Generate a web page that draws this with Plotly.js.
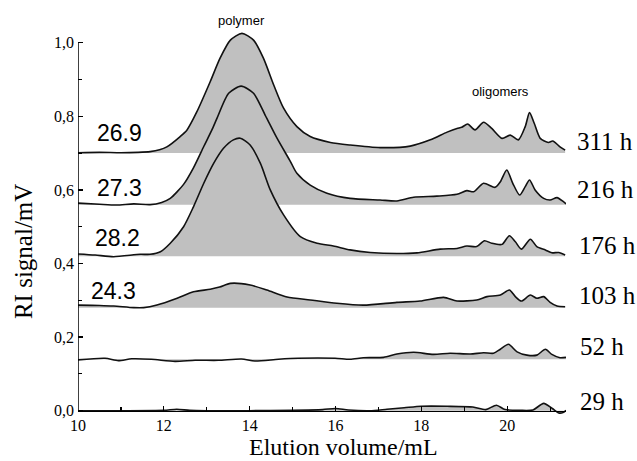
<!DOCTYPE html>
<html>
<head>
<meta charset="utf-8">
<script src="https://cdn.plot.ly/plotly-3.0.1.min.js"></script>
<style>html,body{margin:0;padding:0;background:#fff;}#chart{width:637px;height:461px;}</style>
</head>
<body>
<div id="chart"></div>
<script>
// ---- data (Elution volume in mL, RI signal in mV incl. vertical offset) ----
const x311 = [10, 10.5, 11, 11.4, 11.68, 11.9, 12.07, 12.38, 12.54, 12.77, 13.08, 13.31, 13.55, 13.82, 14.09, 14.32, 14.56, 14.79, 15.10, 15.41, 15.88, 16.34, 17.04, 17.74, 18.21, 18.60, 18.83, 18.94, 19.08, 19.25, 19.45, 19.64, 19.88, 20.07, 20.26, 20.42, 20.52, 20.63, 20.77, 20.96, 21.06, 21.23, 21.35];
const y311 = [0.701, 0.702, 0.701, 0.702, 0.704, 0.709, 0.717, 0.745, 0.763, 0.8125, 0.894, 0.958, 1.007, 1.0255, 1.007, 0.958, 0.885, 0.822, 0.772, 0.745, 0.729, 0.722, 0.715, 0.719, 0.736, 0.757, 0.767, 0.770, 0.779, 0.763, 0.784, 0.767, 0.740, 0.749, 0.736, 0.772, 0.810, 0.781, 0.740, 0.729, 0.733, 0.717, 0.708];
const base311 = 0.70;

const x216 = [10, 10.5, 10.9, 11.3, 11.68, 11.95, 12.15, 12.46, 12.69, 12.93, 13.12, 13.24, 13.51, 13.80, 14.09, 14.36, 14.64, 14.95, 15.10, 15.41, 15.80, 16.34, 17.04, 17.43, 17.82, 18.36, 18.83, 19.06, 19.22, 19.45, 19.72, 19.84, 19.99, 20.13, 20.29, 20.42, 20.52, 20.65, 20.85, 21.0, 21.16, 21.31, 21.37];
const y216 = [0.564, 0.561, 0.559, 0.562, 0.560, 0.566, 0.577, 0.615, 0.660, 0.718, 0.763, 0.795, 0.8625, 0.882, 0.8625, 0.8035, 0.740, 0.677, 0.645, 0.613, 0.591, 0.577, 0.5725, 0.570, 0.580, 0.583, 0.588, 0.598, 0.595, 0.618, 0.607, 0.622, 0.654, 0.618, 0.586, 0.609, 0.627, 0.600, 0.577, 0.5725, 0.579, 0.568, 0.562];
const base216 = 0.56;

const x176 = [10, 10.4, 10.83, 11.45, 11.68, 11.92, 12.15, 12.46, 12.69, 12.93, 13.16, 13.39, 13.62, 13.78, 14.01, 14.25, 14.48, 14.79, 15.18, 15.57, 15.95, 16.34, 16.81, 17.43, 17.90, 18.44, 18.83, 19.06, 19.29, 19.47, 19.64, 19.88, 20.05, 20.19, 20.33, 20.54, 20.69, 20.89, 21.04, 21.20, 21.35];
const y176 = [0.426, 0.423, 0.4185, 0.425, 0.425, 0.432, 0.455, 0.500, 0.554, 0.618, 0.672, 0.713, 0.736, 0.7405, 0.722, 0.672, 0.600, 0.532, 0.473, 0.455, 0.4475, 0.437, 0.430, 0.427, 0.429, 0.439, 0.441, 0.4475, 0.446, 0.462, 0.455, 0.452, 0.4755, 0.459, 0.439, 0.466, 0.446, 0.437, 0.429, 0.430, 0.423];
const base176 = 0.42;

const x103 = [10, 10.5, 10.83, 11.30, 11.53, 11.84, 12.31, 12.69, 13.08, 13.3, 13.55, 14.01, 14.40, 14.87, 15.41, 16.03, 16.65, 17.43, 17.97, 18.52, 18.83, 19.29, 19.53, 19.84, 20.05, 20.19, 20.33, 20.54, 20.69, 20.85, 21.0, 21.16, 21.35];
const y103 = [0.287, 0.286, 0.2845, 0.280, 0.280, 0.287, 0.3055, 0.323, 0.330, 0.336, 0.346, 0.3416, 0.328, 0.309, 0.301, 0.292, 0.287, 0.2945, 0.298, 0.308, 0.298, 0.301, 0.310, 0.3144, 0.328, 0.310, 0.298, 0.3144, 0.3055, 0.310, 0.2945, 0.2845, 0.2826];
const base103 = 0.28;

const x52 = [10, 10.63, 10.94, 11.25, 11.71, 12.26, 12.73, 13.27, 13.81, 14.12, 14.67, 15.13, 15.99, 16.34, 16.65, 17.12, 17.43, 17.82, 18.28, 18.67, 19.14, 19.45, 19.68, 19.84, 20.03, 20.23, 20.46, 20.69, 20.89, 21.04, 21.23, 21.37];
const y52 = [0.138, 0.1424, 0.136, 0.141, 0.1397, 0.134, 0.137, 0.137, 0.1405, 0.135, 0.1397, 0.1424, 0.1424, 0.1397, 0.144, 0.145, 0.154, 0.1587, 0.153, 0.156, 0.154, 0.1576, 0.156, 0.167, 0.1804, 0.160, 0.151, 0.151, 0.167, 0.153, 0.144, 0.145];
const base52 = 0.14;

const x29 = [10, 11, 12, 12.3, 12.6, 13, 14, 15, 15.7, 16.0, 16.3, 16.8, 17.2, 17.6, 18, 18.6, 19.2, 19.5, 19.75, 19.95, 20.3, 20.6, 20.85, 21.05, 21.2, 21.3, 21.37];
const y29 = [0.0, 0.0, 0.001, 0.004, 0.001, 0.0, 0.0, 0.001, 0.003, 0.006, 0.002, 0.0, 0.004, 0.008, 0.012, 0.012, 0.010, 0.003, 0.015, 0.003, 0.001, 0.002, 0.02, 0.006, -0.006, -0.005, 0.001];
const base29 = 0.0;

const hourLabels = ['311 h', '216 h', '176 h', '103 h', '52 h', '29 h'];
const mwLabels = ['26.9', '27.3', '28.2', '24.3'];
const peakLabels = ['polymer', 'oligomers'];
const xTitle = 'Elution volume/mL';
const yTitle = 'RI signal/mV';

const xTickVals = [10, 12, 14, 16, 18, 20];
const xTickText = ['10', '12', '14', '16', '18', '20'];
const xMinorVals = [11, 13, 15, 17, 19, 21];
const yTickVals = [0.0, 0.2, 0.4, 0.6, 0.8, 1.0];
const yTickText = ['0,0', '0,2', '0,4', '0,6', '0,8', '1,0'];
const yMinorVals = [0.1, 0.3, 0.5, 0.7, 0.9];

// ---- build traces ----
const series = [
  {x: x311, y: y311, base: base311},
  {x: x216, y: y216, base: base216},
  {x: x176, y: y176, base: base176},
  {x: x103, y: y103, base: base103},
  {x: x52, y: y52, base: base52},
  {x: x29, y: y29, base: base29}
];
const traces = [];
series.forEach(s => {
  traces.push({x: s.x, y: s.x.map(() => s.base), type: 'scatter', mode: 'lines',
    line: {width: 0, color: 'rgba(0,0,0,0)'}, hoverinfo: 'skip', showlegend: false});
  traces.push({x: s.x, y: s.y, type: 'scatter', mode: 'lines', fill: 'tonexty',
    fillcolor: '#c0c0c0', line: {color: '#111', width: 1.6, shape: 'spline', smoothing: 0.7},
    showlegend: false});
});

const serif = 'Liberation Serif, Times New Roman, serif';
const sans = 'Liberation Sans, Arial, sans-serif';
const yMin = -0.0144, yMax = 1.059;

const annotations = [];
const hourY = [0.731, 0.600, 0.450, 0.314, 0.174, 0.0245];
const hourX = [1.018, 1.018, 1.022, 1.022, 1.024, 1.024];
hourLabels.forEach((t, i) => annotations.push({text: t, xref: 'paper', yref: 'y', x: hourX[i], y: hourY[i],
  xanchor: 'left', yanchor: 'middle', showarrow: false, font: {family: serif, size: 25, color: '#000'}}));
const mwX = [10.97, 10.97, 10.91, 10.83];
const mwY = [0.754, 0.604, 0.4685, 0.325];
mwLabels.forEach((t, i) => annotations.push({text: t, xref: 'x', yref: 'y', x: mwX[i], y: mwY[i],
  xanchor: 'center', yanchor: 'middle', showarrow: false, font: {family: sans, size: 23, color: '#000'}}));
annotations.push({text: peakLabels[0], xref: 'x', yref: 'paper', x: 13.82, y: 1.0025, xanchor: 'center', yanchor: 'middle',
  showarrow: false, font: {family: sans, size: 13, color: '#000'}});
annotations.push({text: peakLabels[1], xref: 'x', yref: 'y', x: 19.84, y: 0.867, xanchor: 'center', yanchor: 'middle',
  showarrow: false, font: {family: sans, size: 13, color: '#000'}});
// axis titles
annotations.push({text: xTitle, xref: 'paper', yref: 'paper', x: 0.545, y: -0.0785, xanchor: 'center', yanchor: 'middle',
  showarrow: false, borderpad: 0, font: {family: serif, size: 24, color: '#000'}});
annotations.push({text: yTitle, xref: 'paper', yref: 'paper', x: -0.1127, y: 0.415, xanchor: 'center', yanchor: 'middle',
  textangle: -90, showarrow: false, font: {family: serif, size: 25, color: '#000'}});

const layout = {
  width: 637, height: 461,
  margin: {l: 78, r: 71, t: 21, b: 45},
  paper_bgcolor: '#fff', plot_bgcolor: '#fff',
  showlegend: false,
  xaxis: {
    range: [10, 21.37], anchor: 'free', position: (0 - yMin) / (yMax - yMin),
    showline: true, linecolor: '#000', linewidth: 1.5, showgrid: false, zeroline: false,
    tickmode: 'array', tickvals: xTickVals, ticktext: xTickText,
    ticks: 'inside', ticklen: 5, tickwidth: 1.3, tickcolor: '#000',
    ticklabelstandoff: 0,
    minor: {tickmode: 'array', tickvals: xMinorVals, ticks: 'inside', ticklen: 4, tickwidth: 1.2, tickcolor: '#000', showgrid: false},
    tickfont: {family: serif, size: 16, color: '#000'},
    automargin: false
  },
  yaxis: {
    range: [yMin, yMax], showline: false, showgrid: false, zeroline: false,
    tickmode: 'array', tickvals: yTickVals, ticktext: yTickText,
    ticks: 'inside', ticklen: 5, tickwidth: 1.3, tickcolor: '#000',
    ticklabelstandoff: 3,
    minor: {tickmode: 'array', tickvals: yMinorVals, ticks: 'inside', ticklen: 4, tickwidth: 1.2, tickcolor: '#000', showgrid: false},
    tickfont: {family: serif, size: 16, color: '#000'},
    automargin: false
  },
  shapes: [{type: 'line', xref: 'x', yref: 'y', x0: 10, x1: 10, y0: 0, y1: 1.0, line: {color: '#000', width: 1.5}}],
  annotations: annotations
};

Plotly.newPlot('chart', traces, layout, {staticPlot: true, displayModeBar: false});
</script>
</body>
</html>
